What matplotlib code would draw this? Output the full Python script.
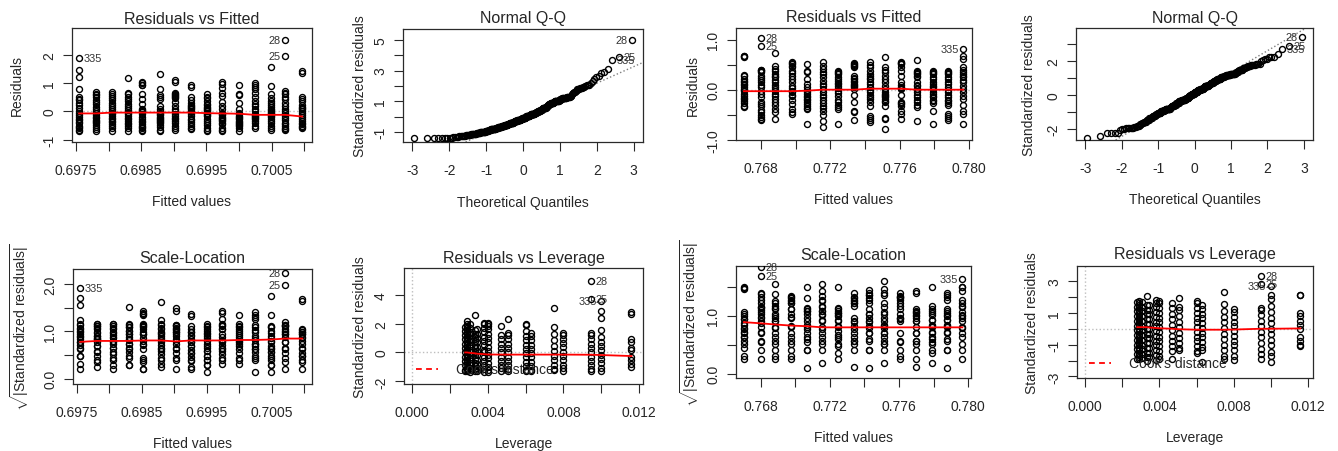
import numpy as np
import matplotlib
matplotlib.use("Agg")
import matplotlib.pyplot as plt
from matplotlib.ticker import FixedLocator, FixedFormatter
from statistics import NormalDist

plt.rcParams['font.family'] = ['Liberation Sans', 'DejaVu Sans']
plt.rcParams['mathtext.fontset'] = 'custom'
plt.rcParams['mathtext.rm'] = 'Liberation Sans'
plt.rcParams['mathtext.it'] = 'Liberation Sans'
plt.rcParams['mathtext.default'] = 'rm'

# ---------------- data : model 1 ----------------
m1_fitted = [0.69755, 0.69781, 0.69805, 0.69830, 0.69852, 0.69879, 0.69902, 0.69926,
             0.69951, 0.69974, 0.70000, 0.70024, 0.70049, 0.70071, 0.70097]
m1_resid = [
    [1.88, 1.48, 1.23, 0.79, 0.52, 0.45, 0.4, 0.3, 0.22, 0.12, 0.02, -0.05, -0.12, -0.2, -0.26, -0.3, -0.36, -0.42, -0.5, -0.55, -0.58, -0.66, -0.69],
    [0.67, 0.63, 0.58, 0.5, 0.42, 0.35, 0.25, 0.16, 0.08, 0.03, -0.06, -0.12, -0.18, -0.24, -0.3, -0.35, -0.38, -0.42, -0.48, -0.55, -0.63, -0.69],
    [0.67, 0.62, 0.55, 0.48, 0.4, 0.3, 0.22, 0.14, 0.08, 0.02, -0.04, -0.1, -0.16, -0.22, -0.28, -0.33, -0.38, -0.44, -0.5, -0.58, -0.69],
    [1.18, 0.66, 0.6, 0.52, 0.45, 0.36, 0.28, 0.2, 0.12, 0.04, -0.04, -0.1, -0.16, -0.22, -0.28, -0.34, -0.4, -0.46, -0.52, -0.6, -0.69],
    [1.05, 0.99, 0.95, 0.92, 0.62, 0.45, 0.28, 0.1, 0.06, 0.02, -0.02, -0.08, -0.2, -0.26, -0.32, -0.38, -0.45, -0.5, -0.55, -0.6, -0.66, -0.69],
    [1.32, 0.78, 0.58, 0.5, 0.45, 0.2, 0.08, 0.03, -0.05, -0.1, -0.14, -0.18, -0.22, -0.26, -0.3, -0.34, -0.38, -0.42, -0.47, -0.55, -0.66, -0.69],
    [1.12, 1.03, 0.66, 0.62, 0.58, 0.54, 0.5, 0.46, 0.32, 0.2, 0.1, 0.02, -0.08, -0.15, -0.22, -0.28, -0.35, -0.42, -0.5, -0.57, -0.65],
    [0.95, 0.88, 0.5, 0.42, 0.3, 0.24, 0.19, 0.15, 0.11, 0.07, 0.03, -0.02, -0.08, -0.15, -0.25, -0.3, -0.36, -0.44, -0.5, -0.57, -0.63],
    [0.6, 0.52, 0.46, 0.38, 0.28, 0.22, 0.17, 0.12, 0.08, 0.04, 0.01, -0.04, -0.08, -0.12, -0.17, -0.25, -0.33, -0.42, -0.48, -0.57, -0.64, -0.69],
    [1.05, 0.98, 0.82, 0.66, 0.55, 0.32, 0.2, 0.08, -0.05, -0.1, -0.14, -0.18, -0.22, -0.26, -0.3, -0.34, -0.4, -0.46, -0.57, -0.64, -0.69],
    [0.93, 0.62, 0.57, 0.3, 0.08, -0.05, -0.1, -0.15, -0.2, -0.24, -0.28, -0.32, -0.36, -0.4, -0.44, -0.48, -0.52, -0.6, -0.69],
    [1.0, 0.92, 0.85, 0.8, 0.66, 0.5, 0.38, 0.28, 0.2, 0.1, 0.01, -0.08, -0.12, -0.16, -0.2, -0.24, -0.28, -0.34, -0.42, -0.53, -0.6],
    [1.56, 0.91, 0.6, 0.48, 0.38, 0.3, 0.22, 0.16, 0.1, 0.04, -0.01, -0.04, -0.08, -0.12, -0.16, -0.2, -0.25, -0.32, -0.42, -0.52, -0.6, -0.64],
    [2.53, 1.97, 0.73, 0.66, 0.62, 0.52, 0.45, 0.3, 0.2, 0.1, 0.02, -0.06, -0.15, -0.22, -0.3, -0.4, -0.45, -0.5, -0.57, -0.62, -0.66],
    [1.44, 1.35, 0.5, 0.45, 0.38, 0.22, 0.15, 0.12, 0.08, 0.02, -0.06, -0.12, -0.2, -0.27, -0.33, -0.4, -0.46, -0.5, -0.54, -0.57],
]
m1_sigma = 0.506
m1_rf_smooth = [-0.07, -0.07, -0.04, -0.04, -0.04, -0.04, -0.04, -0.04, -0.06, -0.07, -0.08, -0.12, -0.12, -0.12, -0.18]
m1_sl_smooth = [0.78, 0.80, 0.80, 0.80, 0.81, 0.81, 0.79, 0.81, 0.81, 0.81, 0.82, 0.82, 0.83, 0.85, 0.85]
m1_leverage = [0.00280, 0.00290, 0.00305, 0.00330, 0.00345, 0.00380, 0.00400, 0.00470,
               0.00505, 0.00600, 0.00630, 0.00750, 0.00800, 0.00945, 0.01000, 0.01160]
m1_lev_stdres = [
    [1.8, 1.5, 1.2, 0.9, 0.6, 0.3, 0.0, -0.3, -0.6, -0.9, -1.2, -1.3],
    [2.15, 2.0, 1.85, 1.7, 1.55, 1.4, 1.25, 1.1, 0.95, 0.8, 0.65, 0.5, 0.35, 0.2, 0.1, 0.0, -0.1, -0.2, -0.35, -0.5, -0.65, -0.8, -0.95, -1.05, -1.15, -1.25, -1.32],
    [1.95, 1.7, 1.45, 1.2, 0.95, 0.7, 0.45, 0.2, 0.0, -0.2, -0.45, -0.7, -0.9, -1.1, -1.25, -1.35],
    [2.62, 1.55, 1.3, 1.05, 0.8, 0.55, 0.3, 0.05, -0.2, -0.45, -0.7, -0.95, -1.15, -1.3],
    [1.6, 1.3, 1.0, 0.7, 0.4, 0.1, -0.2, -0.5, -0.8, -1.1, -1.3],
    [2.05, 1.95, 1.7, 1.4, 1.1, 0.8, 0.5, 0.2, 0.0, -0.3, -0.6, -0.9, -1.15, -1.35],
    [2.02, 1.95, 1.85, 1.6, 1.3, 1.0, 0.7, 0.4, 0.1, -0.15, -0.4, -0.7, -1.0, -1.2, -1.33],
    [1.85, 1.2, 0.9, 0.6, 0.3, 0.0, -0.3, -0.6, -0.9, -1.1, -1.3],
    [2.32, 1.35, 1.2, 0.95, 0.6, 0.3, 0.0, -0.3, -0.6, -0.9, -1.15, -1.3],
    [1.97, 1.88, 1.5, 1.15, 0.85, 0.55, 0.25, -0.05, -0.35, -0.65, -0.95, -1.2, -1.3],
    [1.35, 1.15, 0.85, 0.55, 0.25, -0.05, -0.35, -0.65, -0.95, -1.2, -1.32],
    [3.05, 1.8, 1.25, 0.85, 0.45, 0.1, -0.25, -0.55, -0.85, -1.15, -1.25],
    [1.38, 1.2, 0.95, 0.65, 0.35, 0.05, -0.25, -0.55, -0.85, -1.1, -1.3],
    [4.98, 3.72, 1.35, 1.2, 0.9, 0.6, 0.3, 0.0, -0.3, -0.6, -0.9, -1.15, -1.3],
    [3.6, 2.9, 2.4, 1.55, 1.05, 0.75, 0.45, 0.15, -0.15, -0.45, -0.75, -1.05, -1.3],
    [2.82, 2.65, 0.9, 0.7, 0.3, 0.2, -0.3, -0.5, -0.8, -1.0],
]
m1_lev_smooth = [0.0, 0.0, -0.03, -0.06, -0.09, -0.12, -0.14, -0.15, -0.15, -0.15, -0.15, -0.15, -0.15, -0.16, -0.18, -0.25]
m1_ids = ["28", "25", "335"]

# ---------------- data : model 2 ----------------
m2_fitted = [0.76702, 0.76798, 0.76881, 0.76977, 0.77067, 0.77156, 0.77246, 0.77337,
             0.77429, 0.77515, 0.77608, 0.77698, 0.77790, 0.77877, 0.77967]
m2_resid = [
    [0.68, 0.67, 0.65, 0.3, 0.27, 0.22, 0.18, 0.15, 0.12, 0.1, 0.06, 0.02, -0.03, -0.08, -0.12, -0.16, -0.19, -0.23, -0.27, -0.32, -0.35],
    [1.03, 0.87, 0.4, 0.39, 0.37, 0.35, 0.28, 0.23, 0.2, 0.16, 0.1, 0.05, -0.02, -0.09, -0.15, -0.25, -0.29, -0.32, -0.4, -0.45, -0.5, -0.54, -0.58, -0.6],
    [0.73, 0.48, 0.42, 0.38, 0.32, 0.28, 0.25, 0.2, 0.15, 0.1, 0.05, 0.02, -0.03, -0.08, -0.12, -0.19, -0.25, -0.3, -0.39, -0.45, -0.58],
    [0.55, 0.54, 0.52, 0.48, 0.45, 0.38, 0.33, 0.28, 0.21, 0.15, 0.08, 0.03, -0.02, -0.05, -0.1, -0.12, -0.2, -0.29, -0.38, -0.45, -0.49],
    [0.52, 0.38, 0.36, 0.22, 0.11, 0.05, 0.003, -0.05, -0.09, -0.12, -0.15, -0.18, -0.2, -0.25, -0.28, -0.32, -0.36, -0.39, -0.69],
    [0.55, 0.48, 0.41, 0.36, 0.31, 0.25, 0.18, 0.12, 0.08, 0.01, -0.05, -0.1, -0.15, -0.2, -0.26, -0.32, -0.36, -0.42, -0.5, -0.62, -0.74],
    [0.38, 0.36, 0.34, 0.31, 0.26, 0.21, 0.17, 0.14, 0.11, 0.08, 0.04, -0.02, -0.07, -0.12, -0.2, -0.25, -0.3, -0.34, -0.39, -0.69],
    [0.53, 0.52, 0.5, 0.48, 0.45, 0.28, 0.24, 0.21, 0.18, 0.15, 0.12, 0.1, 0.08, 0.05, 0.004, -0.1, -0.25, -0.42, -0.45, -0.6],
    [0.56, 0.5, 0.45, 0.38, 0.32, 0.28, 0.24, 0.21, 0.15, 0.11, 0.05, 0.003, -0.05, -0.1, -0.15, -0.19, -0.25, -0.32, -0.52, -0.56, -0.6, -0.64],
    [0.65, 0.45, 0.4, 0.35, 0.28, 0.21, 0.15, 0.08, 0.01, -0.05, -0.08, -0.1, -0.12, -0.15, -0.19, -0.22, -0.25, -0.32, -0.56, -0.59, -0.78],
    [0.55, 0.54, 0.53, 0.52, 0.45, 0.38, 0.28, 0.15, 0.09, 0.05, 0.03, 0.02, -0.1, -0.25, -0.27, -0.28, -0.32, -0.42, -0.49, -0.59],
    [0.6, 0.38, 0.36, 0.34, 0.31, 0.28, 0.25, 0.15, 0.1, 0.08, 0.02, 0.004, -0.05, -0.1, -0.15, -0.2, -0.25, -0.3, -0.35, -0.62],
    [0.38, 0.36, 0.34, 0.31, 0.26, 0.21, 0.16, 0.11, 0.08, 0.05, 0.01, -0.04, -0.09, -0.12, -0.15, -0.2, -0.22, -0.26, -0.42, -0.69],
    [0.38, 0.36, 0.34, 0.31, 0.26, 0.21, 0.16, 0.11, 0.05, 0.003, -0.05, -0.1, -0.15, -0.2, -0.22, -0.26, -0.3, -0.49, -0.53, -0.56, -0.6],
    [0.82, 0.68, 0.62, 0.45, 0.4, 0.35, 0.31, 0.28, 0.25, 0.2, 0.15, 0.08, 0.02, -0.05, -0.12, -0.19, -0.3, -0.42, -0.49, -0.69],
]
m2_sigma = 0.306
m2_rf_smooth = [-0.03, -0.03, -0.03, -0.03, -0.02, 0.0, 0.0, 0.0, 0.02, 0.02, 0.02, 0.0, 0.0, 0.0, 0.0]
m2_sl_smooth = [0.89, 0.87, 0.85, 0.83, 0.82, 0.80, 0.80, 0.80, 0.80, 0.80, 0.80, 0.80, 0.80, 0.80, 0.80]
m2_leverage = list(m1_leverage)
m2_lev_stdres = [
    [1.7, 1.4, 1.1, 0.8, 0.5, 0.2, -0.1, -0.4, -0.7, -1.0, -1.3, -1.6, -1.9],
    [1.75, 1.65, 1.5, 1.35, 1.2, 1.05, 0.9, 0.75, 0.6, 0.45, 0.3, 0.15, 0.0, -0.15, -0.3, -0.45, -0.6, -0.75, -0.9, -1.05, -1.2, -1.35, -1.5, -1.65, -1.8, -1.92],
    [1.7, 1.4, 1.1, 0.8, 0.5, 0.2, -0.1, -0.4, -0.7, -1.0, -1.3, -1.6, -1.85],
    [2.05, 1.5, 1.2, 0.9, 0.6, 0.3, 0.0, -0.3, -0.6, -0.9, -1.2, -1.5, -1.75, -2.0],
    [1.5, 1.2, 0.9, 0.6, 0.3, 0.0, -0.3, -0.6, -0.9, -1.2, -1.5, -1.8],
    [1.78, 1.65, 1.35, 1.05, 0.75, 0.45, 0.15, -0.15, -0.45, -0.75, -1.05, -1.35, -1.65, -1.95],
    [1.72, 1.6, 1.3, 1.0, 0.7, 0.4, 0.1, -0.2, -0.5, -0.8, -1.1, -1.4, -1.7, -1.9],
    [1.6, 1.3, 0.95, 0.6, 0.25, -0.1, -0.45, -0.8, -1.1, -1.4, -1.9],
    [1.95, 1.35, 1.15, 0.8, 0.45, 0.1, -0.25, -0.6, -0.9, -1.2, -1.35],
    [1.72, 1.62, 1.3, 1.0, 0.7, 0.4, 0.1, -0.2, -0.5, -0.8, -1.1, -1.4, -1.55],
    [1.5, 1.25, 0.95, 0.65, 0.35, 0.05, -0.25, -0.55, -0.85, -1.15, -1.35, -2.1],
    [2.3, 1.55, 1.1, 0.75, 0.4, 0.05, -0.3, -0.65, -1.0, -1.35, -1.7, -1.9],
    [1.25, 1.05, 0.75, 0.45, 0.15, -0.15, -0.45, -0.75, -1.05, -1.35, -1.7, -1.95],
    [3.3, 2.8, 1.3, 1.15, 0.85, 0.5, 0.15, -0.2, -0.55, -0.9, -1.25, -1.6, -1.9],
    [2.68, 2.15, 1.9, 1.45, 1.05, 0.7, 0.35, 0.0, -0.35, -0.7, -1.05, -1.45, -1.7, -2.1],
    [2.15, 2.1, 1.0, 0.8, 0.5, 0.25, 0.0, -0.5, -0.8, -1.0, -1.1],
]
m2_lev_smooth = [0.1, 0.1, 0.1, 0.1, 0.08, 0.05, 0.03, 0.0, -0.03, -0.06, -0.06, -0.06, -0.05, 0.0, 0.0, 0.02]
m2_ids = ["28", "25", "335"]

# ---------------- figure ----------------
W, H = 1338, 452
fig = plt.figure(figsize=(W / 100, H / 100), dpi=100)
TXT = '#262626'
FRAME = '#2a2a2a'


def make_ax(box):
    l, t, r, b = box
    ax = fig.add_axes([l / W, 1 - b / H, (r - l) / W, (b - t) / H])
    for s in ax.spines.values():
        s.set_linewidth(0.9)
        s.set_color(FRAME)
    ax.tick_params(direction='out', length=6.5, width=0.8, colors=FRAME,
                   labelcolor=TXT, labelsize=10)
    ax.tick_params(axis='x', pad=8.5)
    ax.tick_params(axis='y', pad=5, labelrotation=90)
    return ax


def set_ticks(ax, xt, xl, yt, yl, xlim, ylim):
    ax.xaxis.set_major_locator(FixedLocator(xt))
    ax.xaxis.set_major_formatter(FixedFormatter(xl))
    ax.yaxis.set_major_locator(FixedLocator(yt))
    ax.yaxis.set_major_formatter(FixedFormatter(yl))
    ax.set_xlim(*xlim)
    ax.set_ylim(*ylim)
    for lab in ax.get_yticklabels():
        lab.set_va('center')


def deco(box, title, xlabel, ylabel, ty, xly, ylx):
    l, t, r, b = box
    cx = (l + r) / 2 / W
    cy = 1 - (t + b) / 2 / H
    fig.text(cx, 1 - ty / H, title, ha='center', va='center', fontsize=11.5, color=TXT)
    fig.text(cx, 1 - xly / H, xlabel, ha='center', va='center', fontsize=10, color=TXT)
    fig.text(ylx / W, cy, ylabel, ha='center', va='center', rotation=90, fontsize=10, color=TXT)


def points(ax, x, y):
    ax.plot(x, y, 'o', ls='none', mfc='none', mec='black', ms=4.3, mew=1.0, zorder=3)


def text_id(ax, xs, ys, names):
    xs = np.asarray(xs, float)
    mid = (xs.min() + xs.max()) / 2
    for x, y, n in zip(xs, ys, names):
        if x > mid + 1e-12:
            ha, dx = 'right', -3.4
        else:
            ha, dx = 'left', 3.4
        ax.annotate(n, (x, y), xytext=(dx, 0), textcoords='offset points',
                    ha=ha, va='center', fontsize=7.8, color='#333333', zorder=4)


def flat(groups, xs):
    x = np.concatenate([np.full(len(g), xv) for g, xv in zip(groups, xs)])
    y = np.concatenate([np.asarray(g, float) for g in groups])
    return x, y


def top3(y):
    return np.argsort(-np.abs(y))[:3]


def draw_model(fitted, resid, sigma, rf_s, sl_s, lev, lev_sr, lev_s, ids,
               boxes, labpos, lims):
    fx, r = flat(resid, fitted)
    z = r / sigma
    idx = top3(r)

    # --- Residuals vs Fitted
    b = boxes[0]
    ax = make_ax(b)
    ax.axhline(0, color='#bebebe', ls=':', lw=1.0, zorder=1)
    points(ax, fx, r)
    ax.plot(fitted, rf_s, color='#ff0000', lw=1.3, zorder=4)
    text_id(ax, fx[idx], r[idx], ids)
    set_ticks(ax, *lims[0])
    deco(b, 'Residuals vs Fitted', 'Fitted values', 'Residuals', *labpos[0])

    # --- Normal Q-Q
    b = boxes[1]
    ax = make_ax(b)
    nd = NormalDist()
    n = len(z)
    order = np.argsort(z)
    theo = np.empty(n)
    theo[order] = [nd.inv_cdf((i + 0.5) / n) for i in range(n)]
    points(ax, theo, z)
    y1, y3 = np.quantile(z, [0.25, 0.75])
    x1, x3 = nd.inv_cdf(0.25), nd.inv_cdf(0.75)
    ax.axline((x1, y1), slope=(y3 - y1) / (x3 - x1), color='#7f7f7f', ls=':', lw=1.0, zorder=2)
    zi = top3(z)
    text_id(ax, theo[zi], z[zi], ids)
    set_ticks(ax, *lims[1])
    deco(b, 'Normal Q-Q', 'Theoretical Quantiles', 'Standardized residuals', *labpos[1])

    # --- Scale-Location
    b = boxes[2]
    ax = make_ax(b)
    s = np.sqrt(np.abs(z))
    points(ax, fx, s)
    ax.plot(fitted, sl_s, color='#ff0000', lw=1.3, zorder=4)
    text_id(ax, fx[idx], s[idx], ids)
    set_ticks(ax, *lims[2])
    deco(b, 'Scale-Location', 'Fitted values',
         r'$\sqrt{|\mathrm{Standardized\ residuals}|}$', *labpos[2])

    # --- Residuals vs Leverage
    b = boxes[3]
    ax = make_ax(b)
    lx, ly = flat(lev_sr, lev)
    ax.axhline(0, color='#bebebe', ls=':', lw=1.0, zorder=1)
    ax.axvline(0, color='#bebebe', ls=':', lw=1.0, zorder=1)
    points(ax, lx, ly)
    ax.plot(lev, lev_s, color='#ff0000', lw=1.3, zorder=4)
    li = top3(ly)
    text_id(ax, lx[li], ly[li], ids)
    set_ticks(ax, *lims[3])
    h, = ax.plot([], [], color='#ff0000', ls=(0, (3.2, 2.4)), lw=1.3)
    l_, t_, r_, b_ = b
    ax.legend([h], ["Cook's distance"], loc='lower left',
              bbox_to_anchor=(12 / (r_ - l_), 7.5 / (b_ - t_)), frameon=False,
              borderaxespad=0, borderpad=0, handlelength=1.6, handletextpad=1.25,
              fontsize=10, labelcolor=TXT)
    deco(b, 'Residuals vs Leverage', 'Leverage', 'Standardized residuals', *labpos[3])


lev_ticks = [0.0, 0.002, 0.004, 0.006, 0.008, 0.010, 0.012]
lev_labels = ['0.000', '', '0.004', '', '0.008', '', '0.012']
qx = [-3, -2, -1, 0, 1, 2, 3]
qxl = ['-3', '-2', '-1', '0', '1', '2', '3']

m1_xt = [0.6975, 0.6980, 0.6985, 0.6990, 0.6995, 0.7000, 0.7005, 0.7010]
m1_xl = ['0.6975', '', '0.6985', '', '0.6995', '', '0.7005', '']
m1_xlim = (0.69744, 0.70112)
m1_lims = [
    (m1_xt, m1_xl, [-1, 0, 1, 2], ['-1', '0', '1', '2'], m1_xlim, (-1.08, 2.95)),
    (qx, qxl, [-1, 0, 1, 2, 3, 4, 5], ['-1', '', '1', '', '3', '', '5'], (-3.25, 3.25), (-1.65, 5.7)),
    (m1_xt, m1_xl, [0, 0.5, 1, 1.5, 2], ['0.0', '', '1.0', '', '2.0'], m1_xlim, (-0.11, 2.32)),
    (lev_ticks, lev_labels, [-2, 0, 2, 4], ['-2', '0', '2', '4'], (-0.00044, 0.01221), (-2.19, 5.86)),
]
m1_boxes = [(72, 29, 312, 143), (403, 30, 643, 143), (73, 270, 312, 385), (404, 269, 643, 385)]
m1_labpos = [(19, 202, 17), (19, 203, 360), (259, 444, 20), (259, 444, 360)]

m2_xt = [0.768, 0.770, 0.772, 0.774, 0.776, 0.778, 0.780]
m2_xl = ['0.768', '', '0.772', '', '0.776', '', '0.780']
m2_xlim = (0.76656, 0.78017)
m2_lims = [
    (m2_xt, m2_xl, [-1.0, -0.5, 0.0, 0.5, 1.0], ['-1.0', '', '0.0', '', '1.0'], m2_xlim, (-1.003, 1.23)),
    (qx, qxl, [-2, -1, 0, 1, 2, 3], ['-2', '', '0', '', '2', ''], (-3.25, 3.25), (-2.66, 3.92)),
    (m2_xt, m2_xl, [0.0, 0.5, 1.0, 1.5], ['0.0', '', '1.0', ''], m2_xlim, (-0.075, 1.86)),
    (lev_ticks, lev_labels, [-3, -2, -1, 0, 1, 2, 3], ['-3', '', '-1', '', '1', '', '3'], (-0.00045, 0.01228), (-3.1, 3.95)),
]
m2_boxes = [(736, 29, 972, 141), (1076, 29, 1313, 141), (736, 267, 971, 379), (1077, 267, 1313, 379)]
m2_labpos = [(18, 200, 693), (18, 200, 1029), (255, 438, 690), (255, 438, 1032)]

draw_model(m1_fitted, m1_resid, m1_sigma, m1_rf_smooth, m1_sl_smooth, m1_leverage,
           m1_lev_stdres, m1_lev_smooth, m1_ids, m1_boxes, m1_labpos, m1_lims)
draw_model(m2_fitted, m2_resid, m2_sigma, m2_rf_smooth, m2_sl_smooth, m2_leverage,
           m2_lev_stdres, m2_lev_smooth, m2_ids, m2_boxes, m2_labpos, m2_lims)

fig.savefig('out.png', dpi=100, facecolor='white')
